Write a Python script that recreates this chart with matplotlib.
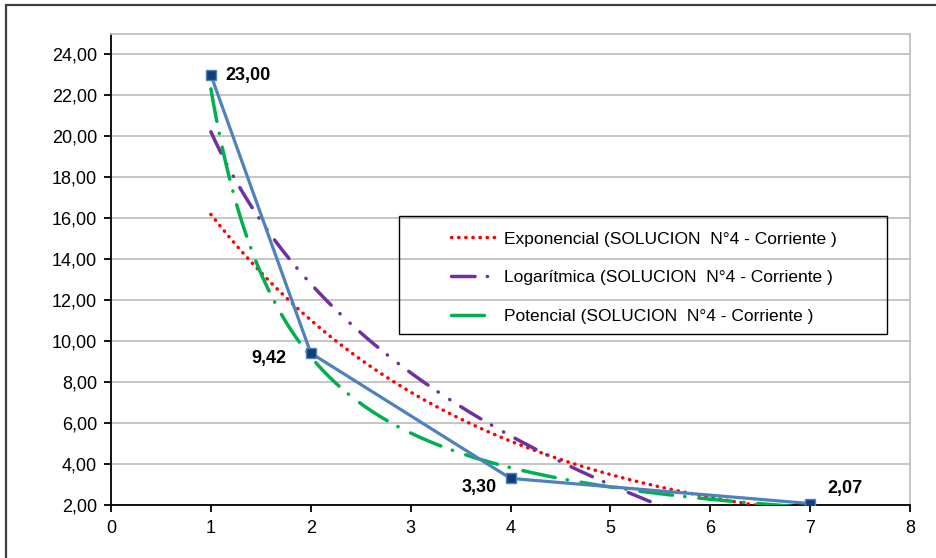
import numpy as np
import matplotlib.pyplot as plt
from matplotlib import rcParams
from matplotlib.patches import Rectangle

rcParams["font.family"] = ["Liberation Sans", "DejaVu Sans"]

# measured points
xData = [1, 2, 4, 7]
yData = [23.00, 9.42, 3.30, 2.07]
pointLabels = ["23,00", "9,42", "3,30", "2,07"]
labelOffsets = [(15, -1, "left"), (-24, -5, "right"), (-14, -9, "right"), (17, 15, "left")]

yTicks = [2, 4, 6, 8, 10, 12, 14, 16, 18, 20, 22, 24]
xTicks = [0, 1, 2, 3, 4, 5, 6, 7, 8]
legendNames = ["Exponencial (SOLUCION  N°4 - Corriente )",
               "Logarítmica (SOLUCION  N°4 - Corriente )",
               "Potencial (SOLUCION  N°4 - Corriente )"]

x = np.array(xData, dtype=float)
y = np.array(yData, dtype=float)

# excel style trendlines (least squares on the points)
bExp, aExp = np.polyfit(x, np.log(y), 1)
bLog, aLog = np.polyfit(np.log(x), y, 1)
bPow, aPow = np.polyfit(np.log(x), np.log(y), 1)

xs = np.linspace(x.min(), x.max(), 400)
yExp = np.exp(aExp + bExp*xs)
yLog = aLog + bLog*np.log(xs)
yPow = np.exp(aPow)*xs**bPow

fig = plt.figure(figsize=(9.36, 5.58), dpi=100)
ax = fig.add_axes([111/936, 1-505/558, 799/936, 471/558])

lw = 2.5
ax.plot(xs, yExp, color="#FF0000", lw=lw, linestyle=(0, (0.1, 1.95)),
        dash_capstyle="round", label=legendNames[0], zorder=3)
ax.plot(xs, yLog, color="#7030A0", lw=lw, linestyle=(0, (6.8, 3.5, 0.1, 3.9, 0.1, 3.7)),
        dash_capstyle="round", label=legendNames[1], zorder=3)
ax.plot(xs, yPow, color="#00B050", lw=lw, linestyle=(0, (9.5, 3.5, 0.1, 4.0)),
        dash_capstyle="round", label=legendNames[2], zorder=3)

ax.plot(x, y, color="#4F81BD", lw=2.3, marker="s", markersize=7,
        markerfacecolor="#113E7A", markeredgecolor="#4F81BD", markeredgewidth=1, zorder=4)

for xi, yi, txt, (dx, dy, ha) in zip(xData, yData, pointLabels, labelOffsets):
    ax.annotate(txt, (xi, yi), xytext=(dx, dy), textcoords="offset pixels",
                ha=ha, va="center", fontsize=13, fontweight="bold", color="#000000")

ax.set_xlim(0, 8)
ax.set_ylim(2, 25)
ax.set_xticks(xTicks)
ax.set_yticks(yTicks)
ax.set_xticklabels([str(t) for t in xTicks])
ax.set_yticklabels([f"{t:.2f}".replace(".", ",") for t in yTicks])
ax.yaxis.grid(True, color="#C0C0C0", lw=1.3)
ax.set_axisbelow(True)

ax.tick_params(axis="both", direction="out", length=5, width=1.3, labelsize=13, colors="#000000")
ax.tick_params(axis="y", pad=5)
ax.tick_params(axis="x", pad=6)

for s in ["left", "bottom"]:
    ax.spines[s].set_color("#000000")
    ax.spines[s].set_linewidth(1.3)
for s in ["top", "right"]:
    ax.spines[s].set_color("#C0C0C0")
    ax.spines[s].set_linewidth(1.3)

# legend, transparent with a plain black frame
leg = ax.legend(loc="upper left", bbox_to_anchor=(0.425, 0.581), frameon=False,
                fontsize=12.5, handlelength=2.6, handletextpad=0.45, labelspacing=1.37,
                borderpad=0, borderaxespad=0)
ax.add_patch(Rectangle((0.360, 0.363), 0.611, 0.251, transform=ax.transAxes,
                       facecolor="none", edgecolor="#000000", lw=1.0, zorder=5))

# outer chart border
fig.add_artist(Rectangle((6/936, -0.05), 1.0, 1 - 5/558 + 0.05, transform=fig.transFigure,
                         facecolor="none", edgecolor="#404040", lw=1.6))

plt.savefig("out.png", dpi=100)
